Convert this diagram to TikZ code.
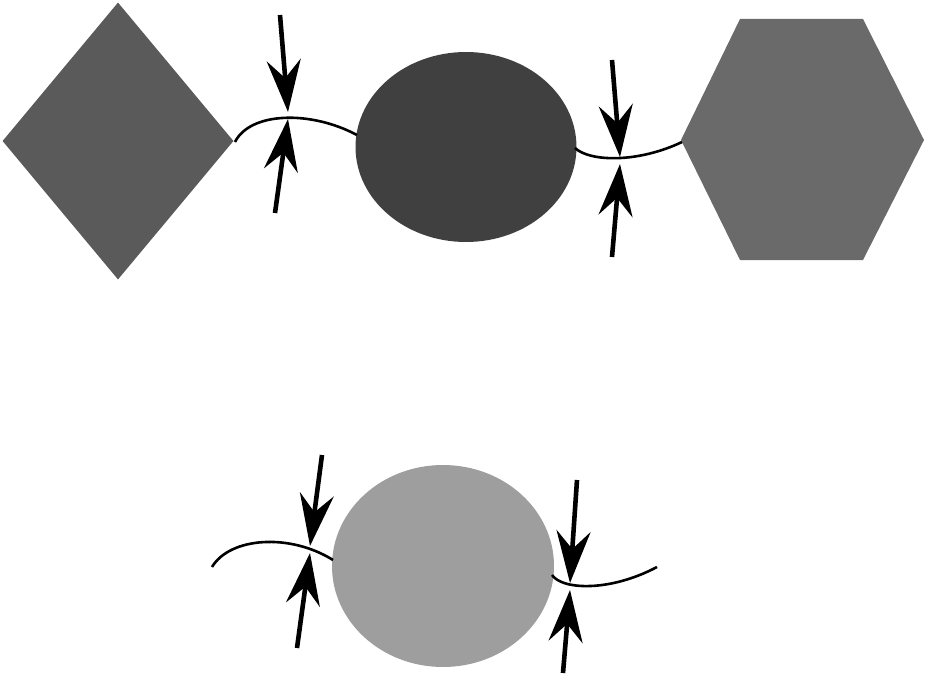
\documentclass[tikz,border=0pt]{standalone}
\usetikzlibrary{shapes.geometric,arrows.meta}
\definecolor{cdia}{RGB}{90,90,90}
\definecolor{cdark}{RGB}{64,64,64}
\definecolor{chex}{RGB}{106,106,106}
\definecolor{clight}{RGB}{158,158,158}
\begin{document}
\begin{tikzpicture}[x=1pt,y=-1pt,
  wire/.style={line width=2.6pt,black},
  pointer/.style={line width=4.6pt,black,-{Stealth[length=52pt,width=34pt,inset=18pt]}},
  blob/.style={ellipse,inner sep=0pt,draw=none}]
\useasboundingbox (0,0) rectangle (927,677);
% shapes
\node[diamond,fill=cdia,inner sep=0pt,minimum width=231pt,minimum height=277pt] (dia) at (118,141) {};
\node[blob,fill=cdark,minimum width=221pt,minimum height=190pt] (e1) at (466,147) {};
\fill[chex] (681,140) coordinate (hexL) -- (740,19) -- (863,19) -- (924,140) -- (863,260) -- (740,260) -- cycle;
\node[blob,fill=clight,minimum width=222pt,minimum height=202pt] (e2) at (443,566) {};
% coordinates
\coordinate (c1s) at (235,142);
\coordinate (c1e) at (357,135);
\coordinate (c2s) at (575,148);
\coordinate (c2e) at (682,142);
\coordinate (c3s) at (212,567);
\coordinate (c3e) at (333,560);
\coordinate (c4s) at (552,575);
\coordinate (c4e) at (657,567);
\coordinate (p1a) at (280,15);  \coordinate (t1a) at (288,112);
\coordinate (p1b) at (275,213); \coordinate (t1b) at (288,119);
\coordinate (p2a) at (612,60);  \coordinate (t2a) at (620,157);
\coordinate (p2b) at (612,257); \coordinate (t2b) at (620,164);
\coordinate (p3a) at (322,455); \coordinate (t3a) at (310,546);
\coordinate (p3b) at (297,648); \coordinate (t3b) at (310,553);
\coordinate (p4a) at (577,480); \coordinate (t4a) at (570,583);
\coordinate (p4b) at (563,673); \coordinate (t4b) at (570,590);
% wires
\draw[wire] (c1s) .. controls (250,112) and (310,110) .. (c1e);
\draw[wire] (c2s) .. controls (590,162) and (638,163) .. (c2e);
\draw[wire] (c3s) .. controls (230,537) and (290,533) .. (c3e);
\draw[wire] (c4s) .. controls (562,590) and (610,592) .. (c4e);
% pointers
\draw[pointer] (p1a) -- (t1a);
\draw[pointer] (p1b) -- (t1b);
\draw[pointer] (p2a) -- (t2a);
\draw[pointer] (p2b) -- (t2b);
\draw[pointer] (p3a) -- (t3a);
\draw[pointer] (p3b) -- (t3b);
\draw[pointer] (p4a) -- (t4a);
\draw[pointer] (p4b) -- (t4b);
\end{tikzpicture}
\end{document}
